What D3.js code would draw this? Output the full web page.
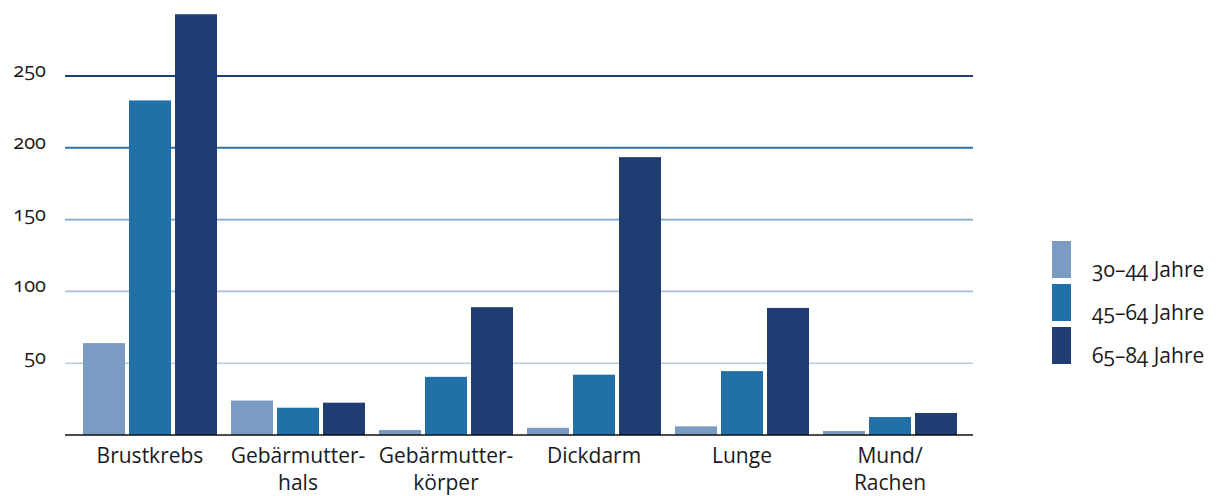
<!DOCTYPE html>
<html lang="de">
<head>
    <meta charset="UTF-8">
    <title>Krebs nach Altersgruppen</title>
    <script src="https://d3js.org/d3.v7.min.js"></script>
    <style>
        body {
            margin: 0;
            background: white;
            font-family: "Open Sans", Lato, sans-serif;
            font-variant-numeric: oldstyle-nums;
        }
        text { fill: #1a1a1a; }
    </style>
</head>
<body>
    <svg id="chart"></svg>
    <script>
        const categories = [['Brustkrebs'], ['Gebärmutter-', 'hals'], ['Gebärmutter-', 'körper'], ['Dickdarm'], ['Lunge'], ['Mund/', 'Rachen']];
        const seriesNames = ['30–44 Jahre', '45–64 Jahre', '65–84 Jahre'];
        const age30to44 = [64, 24, 3.5, 5, 6, 2.8];
        const age45to64 = [233, 19, 40.5, 42, 44.5, 12.5];
        const age65to84 = [293, 22.5, 89, 193.5, 88.5, 15.3];
        const yTicks = [50, 100, 150, 200, 250];

        const width = 1220, height = 496;
        const colors = ['#7a9cc2', '#2170a8', '#1f3d73'];
        const gridColors = { 50: '#b9cde2', 100: '#a6bdd8', 150: '#85a5cb', 200: '#2f72ad', 250: '#1f3d73' };

        const svg = d3.select('#chart').attr('width', width).attr('height', height);

        // 148px per category, bars 42px with 4px gaps
        const x0 = d3.scaleBand()
            .domain(d3.range(categories.length))
            .range([81, 81 + 6 * 148]);
        const x1 = d3.scaleBand()
            .domain(d3.range(3))
            .range([2, 136])
            .paddingInner(4 / 46);
        const y = d3.scaleLinear().domain([0, 250]).range([435, 76]);

        // gridlines
        yTicks.forEach(t => {
            svg.append('line')
                .attr('x1', 65).attr('x2', 973)
                .attr('y1', y(t)).attr('y2', y(t))
                .attr('stroke', gridColors[t])
                .attr('stroke-width', t >= 200 ? 2 : 1.6);
            svg.append('text')
                .attr('x', 46).attr('y', y(t) + 1)
                .attr('text-anchor', 'end')
                .attr('font-size', '20px')
                .text(t);
        });

        const series = [age30to44, age45to64, age65to84];
        categories.forEach((cat, i) => {
            const g = svg.append('g').attr('transform', `translate(${x0(i)},0)`);
            series.forEach((vals, s) => {
                g.append('rect')
                    .attr('x', x1(s))
                    .attr('width', x1.bandwidth())
                    .attr('y', y(vals[i]))
                    .attr('height', y(0) - y(vals[i]))
                    .attr('fill', colors[s]);
            });
            const cx = x1(0) + (x1(2) + x1.bandwidth() - x1(0)) / 2;
            cat.forEach((line, k) => {
                g.append('text')
                    .attr('x', cx)
                    .attr('y', 463 + k * 27)
                    .attr('text-anchor', 'middle')
                    .attr('font-size', '21px')
                    .text(line);
            });
        });

        // baseline
        svg.append('line')
            .attr('x1', 65).attr('x2', 973)
            .attr('y1', y(0)).attr('y2', y(0))
            .attr('stroke', '#111').attr('stroke-width', 1.5);

        // legend
        const legend = svg.append('g').attr('transform', 'translate(1052,241)');
        seriesNames.forEach((name, s) => {
            legend.append('rect')
                .attr('x', 0).attr('y', s * 43)
                .attr('width', 19).attr('height', 37)
                .attr('fill', colors[s]);
            legend.append('text')
                .attr('x', 40).attr('y', s * 43 + 36)
                .attr('font-size', '21px')
                .text(name);
        });
    </script>
</body>
</html>
